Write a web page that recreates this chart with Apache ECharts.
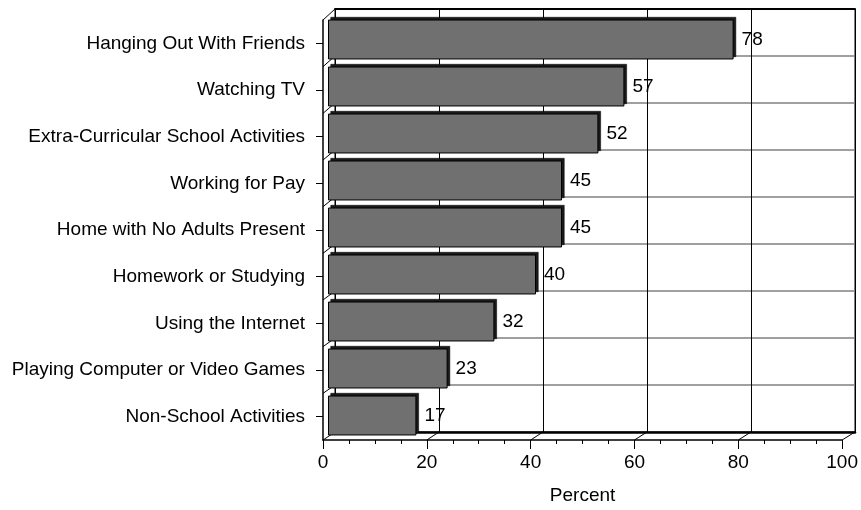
<!DOCTYPE html>
<html>
<head>
<meta charset="utf-8">
<script src="https://cdn.jsdelivr.net/npm/echarts@6/dist/echarts.min.js"></script>
<style>
  html, body { margin: 0; padding: 0; background: #fff; }
  #chart { width: 861px; height: 510px; }
</style>
</head>
<body>
<div id="chart"></div>
<script>
// 数据
const categories = [
  "Hanging Out With Friends",
  "Watching TV",
  "Extra-Curricular School Activities",
  "Working for Pay",
  "Home with No Adults Present",
  "Homework or Studying",
  "Using the Internet",
  "Playing Computer or Video Games",
  "Non-School Activities"
];
const values = [78, 57, 52, 45, 45, 40, 32, 23, 17];
const xMin = 0, xMax = 100, xStep = 20;

const font = "Arial, 'Liberation Sans', sans-serif";
const myChart = echarts.init(document.getElementById("chart"));

// 前面 / 后墙 / 柱子 / 柱子侧面 四个平面
const option = {
  animation: false,
  backgroundColor: "#fff",
  grid: [
    { left: 323, top: 20, width: 520, height: 423 },   // front
    { left: 335, top: 9, width: 520, height: 423, show: true, borderColor: "#000", borderWidth: 1 }, // back wall
    { left: 328, top: 16, width: 520, height: 423 },   // bars
    { left: 330.5, top: 13.5, width: 520, height: 423 }    // bar depth
  ],
  xAxis: [
    {
      type: "value", gridIndex: 0, min: xMin, max: xMax, interval: xStep,
      axisLine: { show: true, lineStyle: { color: "#000", width: 1.5 } },
      axisTick: { show: true, length: 9, lineStyle: { color: "#000" } },
      minorTick: { show: true, splitNumber: 4, length: 4, lineStyle: { color: "#000" } },
      splitLine: { show: false },
      axisLabel: { color: "#000", fontSize: 19, fontFamily: font, margin: 13 },
      name: "Percent", nameLocation: "middle", nameGap: 46,
      nameTextStyle: { color: "#000", fontSize: 19, fontFamily: font }
    },
    {
      type: "value", gridIndex: 1, min: xMin, max: xMax, interval: xStep, position: "bottom",
      axisLine: { show: true, lineStyle: { color: "#000", width: 2.5 } },
      axisTick: { show: false }, axisLabel: { show: false },
      splitLine: { show: true, lineStyle: { color: "#000", width: 1 } }
    },
    {
      type: "value", gridIndex: 1, min: xMin, max: xMax, position: "top",
      axisLine: { show: true, lineStyle: { color: "#000", width: 2 } },
      axisTick: { show: false }, axisLabel: { show: false }, splitLine: { show: false }
    },
    { type: "value", gridIndex: 2, min: xMin, max: xMax, show: false },
    { type: "value", gridIndex: 3, min: xMin, max: xMax, show: false }
  ],
  yAxis: [
    {
      type: "category", gridIndex: 0, data: categories, inverse: true,
      axisLine: { show: true, lineStyle: { color: "#000", width: 1.5 } },
      axisTick: { show: true, alignWithLabel: true, length: 7, lineStyle: { color: "#000" } },
      axisLabel: { color: "#000", fontSize: 19, fontFamily: font, margin: 18 },
      splitLine: { show: false }
    },
    {
      type: "category", gridIndex: 1, data: categories, inverse: true,
      axisLine: { show: false }, axisTick: { show: false }, axisLabel: { show: false },
      splitLine: { show: true, lineStyle: { color: "#808080", width: 1.5 } }
    },
    { type: "category", gridIndex: 2, data: categories, inverse: true, show: false },
    { type: "category", gridIndex: 3, data: categories, inverse: true, show: false }
  ],
  series: [
    {
      // 柱子的顶面和侧面（深色）
      type: "bar", xAxisIndex: 4, yAxisIndex: 3, data: values,
      barCategoryGap: "15%", z: 4, silent: true,
      itemStyle: { color: "#1a1a1a", borderColor: "#000", borderWidth: 0.5 }
    },
    {
      type: "bar", xAxisIndex: 3, yAxisIndex: 2, data: values,
      barCategoryGap: "15%", z: 5,
      itemStyle: { color: "#707070", borderColor: "#000", borderWidth: 1 },
      label: {
        show: true, position: "right", distance: 8,
        color: "#000", fontSize: 19, fontFamily: font
      }
    }
  ]
};
myChart.setOption(option);

// 3D 边框的斜线：由前后两个平面的坐标算出
function drawFrame() {
  const lines = [];
  const seg = (p, q) => lines.push({
    type: "line", z: 1, silent: true,
    shape: { x1: p[0], y1: p[1], x2: q[0], y2: q[1] },
    style: { stroke: "#000", lineWidth: 1 }
  });
  const last = categories[categories.length - 1];
  const fStep = myChart.convertToPixel({ yAxisIndex: 0 }, categories[1]) - myChart.convertToPixel({ yAxisIndex: 0 }, categories[0]);
  const bStep = myChart.convertToPixel({ yAxisIndex: 1 }, categories[1]) - myChart.convertToPixel({ yAxisIndex: 1 }, categories[0]);
  // 底面斜线
  const fb = myChart.convertToPixel({ yAxisIndex: 0 }, last) + fStep / 2;
  const bb = myChart.convertToPixel({ yAxisIndex: 1 }, last) + bStep / 2;
  for (let v = xMin; v <= xMax; v += xStep) {
    const f = myChart.convertToPixel({ xAxisIndex: 0 }, v);
    const b = myChart.convertToPixel({ xAxisIndex: 1 }, v);
    seg([f, fb], [b, bb]);
  }
  // 左墙斜线
  const fx = myChart.convertToPixel({ xAxisIndex: 0 }, xMin);
  const bx = myChart.convertToPixel({ xAxisIndex: 1 }, xMin);
  const f0 = myChart.convertToPixel({ yAxisIndex: 0 }, categories[0]) - fStep / 2;
  const b0 = myChart.convertToPixel({ yAxisIndex: 1 }, categories[0]) - bStep / 2;
  for (let k = 0; k < categories.length; k++) {
    seg([fx, f0 + k * fStep], [bx, b0 + k * bStep]);
  }
  myChart.setOption({ graphic: lines });
}
drawFrame();
</script>
</body>
</html>
